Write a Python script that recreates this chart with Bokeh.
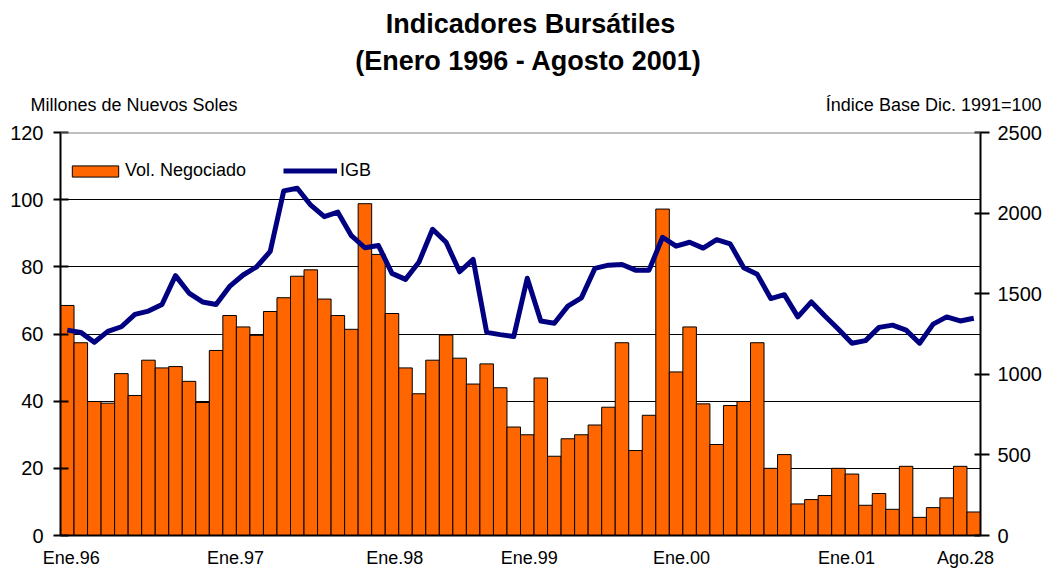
from bokeh.plotting import figure
from bokeh.models import (Range1d, LinearAxis, FixedTicker, Legend, LegendItem,
                          Span, Label, ColumnDataSource)
from bokeh.embed import file_html
from bokeh.resources import INLINE

# ---------------- data ----------------
title_lines = ["Indicadores Bursátiles", "(Enero 1996 - Agosto 2001)"]
left_caption = "Millones de Nuevos Soles"
right_caption = "Índice Base Dic. 1991=100"

# monthly, Jan 1996 .. Aug 2001 (68 months)
vol_negociado = [68.5, 57.4, 39.9, 39.4, 48.2, 41.7, 52.2, 49.9, 50.3, 45.9, 39.6, 55.1,
                 65.5, 62.1, 59.6, 66.7, 70.8, 77.2, 79.1, 70.4, 65.5, 61.4, 98.8, 83.7,
                 66.1, 49.9, 42.2, 52.2, 59.7, 52.8, 45.1, 51.1, 44.0, 32.3, 30.0, 46.9,
                 23.6, 28.8, 30.0, 32.9, 38.2, 57.4, 25.3, 35.8, 97.2, 48.7, 62.1, 39.2,
                 27.1, 38.7, 39.9, 57.4, 20.0, 24.1, 9.4, 10.7, 11.9, 20.0, 18.3, 9.0,
                 12.5, 7.8, 20.6, 5.4, 8.3, 11.2, 20.6, 7.0]
igb = [1274, 1260, 1199, 1266, 1295, 1372, 1392, 1433, 1612, 1504, 1449, 1433,
       1545, 1616, 1667, 1762, 2138, 2154, 2049, 1978, 2006, 1860, 1785, 1799,
       1626, 1589, 1697, 1900, 1819, 1636, 1713, 1260, 1246, 1234, 1596, 1331,
       1317, 1423, 1474, 1657, 1677, 1681, 1646, 1646, 1850, 1795, 1819, 1783,
       1835, 1809, 1661, 1620, 1470, 1494, 1356, 1449, 1362, 1280, 1193, 1209,
       1291, 1305, 1274, 1193, 1311, 1356, 1331, 1348]
x_tick_labels = ["Ene.96", "Ene.97", "Ene.98", "Ene.99", "Ene.00", "Ene.01", "Ago.28"]
left_ticks = [0, 20, 40, 60, 80, 100, 120]
right_ticks = [0, 500, 1000, 1500, 2000, 2500]

# ---------------- layout ----------------
x_tick_pos = [0.3, 12.44, 24.2, 34.15, 45.4, 57.6, 66.4]
FONT = "Liberation Sans"
W = 1044
HEADER_H = 118
MAIN_H = 571 - HEADER_H

# header figure (title + captions)
hdr = figure(width=W, height=HEADER_H, output_backend="svg", toolbar_location=None,
             x_range=Range1d(0, W), y_range=Range1d(HEADER_H, 0),
             x_axis_type=None, y_axis_type=None, min_border=0,
             min_border_left=0, min_border_right=0, min_border_top=0,
             min_border_bottom=0, outline_line_color=None,
             background_fill_color="white", border_fill_color="white")
hdr.grid.visible = False
hdr.add_layout(Label(x=530, y=23, text=title_lines[0], text_align="center",
                     text_baseline="middle", text_font=FONT, text_font_size="27px",
                     text_font_style="bold", text_color="black"))
hdr.add_layout(Label(x=528, y=60, text=title_lines[1], text_align="center",
                     text_baseline="middle", text_font=FONT, text_font_size="27px",
                     text_font_style="bold", text_color="black"))
hdr.add_layout(Label(x=30, y=104, text=left_caption, text_align="left",
                     text_baseline="middle", text_font=FONT, text_font_size="18px",
                     text_color="black"))
hdr.add_layout(Label(x=1041, y=104, text=right_caption, text_align="right",
                     text_baseline="middle", text_font=FONT, text_font_size="18px",
                     text_color="black"))

# main figure
n = len(vol_negociado)
idx = list(range(n))
src = ColumnDataSource(dict(x=idx, vol=vol_negociado, igb=igb))

p = figure(width=W, height=MAIN_H, output_backend="svg", toolbar_location=None,
           x_range=Range1d(-0.5, n - 0.5), y_range=Range1d(0, 120),
           min_border_left=60, min_border_right=62, min_border_top=14,
           min_border_bottom=36, background_fill_color="white",
           border_fill_color="white", outline_line_color=None)
p.extra_y_ranges = {"igb": Range1d(0, 2500)}

bars = p.vbar(x="x", top="vol", width=1.0, source=src, fill_color="#FF6600",
              line_color="black", line_width=1)
ln = p.line(x="x", y="igb", source=src, y_range_name="igb", line_color="#000080",
            line_width=5, line_join="round")

# grid
p.xgrid.visible = False
p.ygrid.ticker = FixedTicker(ticks=left_ticks)
p.ygrid.grid_line_color = "black"
p.ygrid.grid_line_width = 1
p.add_layout(Span(location=120, dimension="width", line_color="#808080", line_width=2))

# x axis
xa = p.xaxis[0]
xa.ticker = FixedTicker(ticks=x_tick_pos)
xa.major_label_overrides = {t: l for t, l in zip(x_tick_pos, x_tick_labels)}
xa.major_tick_out = 0
xa.major_tick_in = 0
xa.minor_tick_out = 0
xa.minor_tick_in = 0
xa.axis_line_width = 2
xa.axis_line_color = "black"
xa.major_label_standoff = 12
xa.major_label_text_font = FONT
xa.major_label_text_font_size = "18px"
xa.major_label_text_color = "black"

# left axis
ya = p.yaxis[0]
ya.ticker = FixedTicker(ticks=left_ticks)
ya.major_tick_out = 7
ya.major_tick_in = 8
ya.minor_tick_out = 0
ya.minor_tick_in = 0
ya.major_tick_line_width = 2
ya.axis_line_width = 2
ya.major_label_standoff = 10
ya.major_label_text_font = FONT
ya.major_label_text_font_size = "20px"
ya.major_label_text_color = "black"

# right axis
ra = LinearAxis(y_range_name="igb", ticker=FixedTicker(ticks=right_ticks))
ra.major_tick_out = 9
ra.major_tick_in = 6
ra.minor_tick_out = 0
ra.minor_tick_in = 0
ra.major_tick_line_width = 2
ra.axis_line_width = 2
ra.major_label_standoff = 8
ra.major_label_text_font = FONT
ra.major_label_text_font_size = "20px"
ra.major_label_text_color = "black"
p.add_layout(ra, "right")

# legends
common = dict(orientation="horizontal", padding=0, margin=0, spacing=0,
              border_line_color=None, background_fill_alpha=0,
              label_text_font=FONT, label_text_font_size="18px",
              label_text_color="black", label_height=11)
leg1 = Legend(items=[LegendItem(label="Vol. Negociado", renderers=[bars])],
              location=(6, 354), glyph_width=58, glyph_height=14,
              label_standoff=1, **common)
leg2 = Legend(items=[LegendItem(label="IGB", renderers=[ln])],
              location=(223, 354), glyph_width=54, glyph_height=11,
              label_standoff=3, **common)
p.add_layout(leg1)
p.add_layout(leg2)

open("out.html", "w").write(file_html([hdr, p], INLINE))
